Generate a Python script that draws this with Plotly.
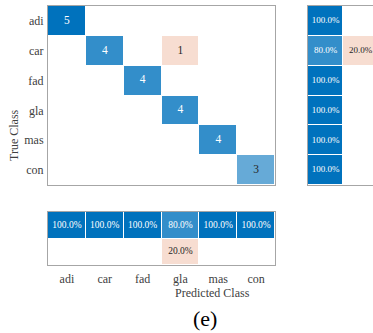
import plotly.graph_objects as go
import numpy as np

classes = ["adi", "car", "fad", "gla", "mas", "con"]
# rows = true class, columns = predicted class
counts = [
    [5, 0, 0, 0, 0, 0],
    [0, 4, 0, 1, 0, 0],
    [0, 0, 4, 0, 0, 0],
    [0, 0, 0, 4, 0, 0],
    [0, 0, 0, 0, 4, 0],
    [0, 0, 0, 0, 0, 3],
]

cm = np.array(counts, dtype=float)
n = len(classes)
diag = np.diag(cm)
row_correct = diag / cm.sum(axis=1) * 100
row_wrong = 100 - row_correct
col_correct = diag / cm.sum(axis=0) * 100
col_wrong = 100 - col_correct

BLUE = "rgb(0,114,189)"
ORANGE = "rgb(217,83,25)"
FRAME = "#a6a6a6"
FONT = "Liberation Serif, Times New Roman, serif"
scale = [[0, ORANGE], [0.5, "white"], [1, BLUE]]

def txtcol(frac, good):
    return "white" if (good and frac >= 0.75) else "#262626"

fig = go.Figure()

# ---- main matrix
mx = cm.max()
zmain = [[None if cm[i, j] == 0 else (cm[i, j] / mx if i == j else -cm[i, j] / mx)
          for j in range(n)] for i in range(n)]
fig.add_trace(go.Heatmap(z=zmain, x=list(range(n)), y=list(range(n)), colorscale=scale,
                         zmin=-1, zmax=1, showscale=False, xgap=1, ygap=1,
                         hoverinfo="skip", xaxis="x", yaxis="y"))
tx, ty, tt, tc = [], [], [], []
for i in range(n):
    for j in range(n):
        if cm[i, j] > 0:
            tx.append(j); ty.append(i); tt.append(str(int(cm[i, j])))
            tc.append(txtcol(cm[i, j] / mx, i == j))
fig.add_trace(go.Scatter(x=tx, y=ty, text=tt, mode="text",
                         textfont=dict(family=FONT, size=11.5, color=tc),
                         hoverinfo="skip", xaxis="x", yaxis="y"))

# ---- right summary (row-normalized)
zr = [[row_correct[i] / 100, (-row_wrong[i] / 100) if row_wrong[i] > 0 else None] for i in range(n)]
fig.add_trace(go.Heatmap(z=zr, x=[0, 1], y=list(range(n)), colorscale=scale,
                         zmin=-1, zmax=1, showscale=False, xgap=1, ygap=1,
                         hoverinfo="skip", xaxis="x2", yaxis="y2"))
tx, ty, tt, tc = [], [], [], []
for i in range(n):
    tx.append(0); ty.append(i); tt.append(f"{row_correct[i]:.1f}%")
    tc.append(txtcol(row_correct[i] / 100, True))
    if row_wrong[i] > 0:
        tx.append(1); ty.append(i); tt.append(f"{row_wrong[i]:.1f}%")
        tc.append("#262626")
fig.add_trace(go.Scatter(x=tx, y=ty, text=tt, mode="text",
                         textfont=dict(family=FONT, size=9, color=tc),
                         hoverinfo="skip", xaxis="x2", yaxis="y2"))

# ---- bottom summary (column-normalized)
zb = [[col_correct[j] / 100 for j in range(n)],
      [(-col_wrong[j] / 100) if col_wrong[j] > 0 else None for j in range(n)]]
fig.add_trace(go.Heatmap(z=zb, x=list(range(n)), y=[0, 1], colorscale=scale,
                         zmin=-1, zmax=1, showscale=False, xgap=1, ygap=1,
                         hoverinfo="skip", xaxis="x3", yaxis="y3"))
tx, ty, tt, tc = [], [], [], []
for j in range(n):
    tx.append(j); ty.append(0); tt.append(f"{col_correct[j]:.1f}%")
    tc.append(txtcol(col_correct[j] / 100, True))
    if col_wrong[j] > 0:
        tx.append(j); ty.append(1); tt.append(f"{col_wrong[j]:.1f}%")
        tc.append("#262626")
fig.add_trace(go.Scatter(x=tx, y=ty, text=tt, mode="text",
                         textfont=dict(family=FONT, size=9.5, color=tc),
                         hoverinfo="skip", xaxis="x3", yaxis="y3"))

W, H = 373, 333
def px(a, b):
    return [a / W, b / W]
def py(top, bot):
    return [(H - bot) / H, (H - top) / H]

ax_common = dict(showgrid=False, zeroline=False, showline=True, linecolor=FRAME,
                 linewidth=1, ticks="", fixedrange=True)
tickfont = dict(family=FONT, size=12, color="#404040")

fig.update_layout(
    width=W, height=H, margin=dict(l=0, r=0, t=0, b=0),
    paper_bgcolor="white", plot_bgcolor="white", showlegend=False,
    xaxis=dict(domain=px(48, 275), range=[-0.5, n - 0.5], showticklabels=False,
               mirror=True, anchor="y", **ax_common),
    yaxis=dict(domain=py(6, 185), range=[n - 0.5, -0.5], tickvals=list(range(n)),
               ticktext=classes, tickfont=tickfont, mirror=True, anchor="x",
               ticklabelstandoff=1, **ax_common),
    xaxis2=dict(domain=px(308, 373), range=[-0.5, -0.5 + 65 / 35], showticklabels=False,
                mirror=True, anchor="y2", **ax_common),
    yaxis2=dict(domain=py(6, 185), range=[n - 0.5, -0.5], showticklabels=False,
                mirror=False, anchor="x2", **ax_common),
    xaxis3=dict(domain=px(48, 275), range=[-0.5, n - 0.5], tickvals=list(range(n)),
                ticktext=classes, tickfont=tickfont, mirror=True, anchor="y3",
                ticklabelstandoff=3, **ax_common),
    yaxis3=dict(domain=py(212, 265), range=[1.5, -0.5], showticklabels=False,
                mirror=True, anchor="x3", **ax_common),
    annotations=[
        dict(text="True Class", x=14 / W, y=(H - 135) / H, xref="paper", yref="paper",
             xanchor="center", yanchor="middle",
             textangle=-90, showarrow=False, font=dict(family=FONT, size=12, color="#404040")),
        dict(text="Predicted Class", x=212 / W, y=(H - 293) / H, xref="paper", yref="paper",
             xanchor="center", yanchor="middle",
             showarrow=False, font=dict(family=FONT, size=12, color="#404040")),
        dict(text="(e)", x=205 / W, y=(H - 318) / H, xref="paper", yref="paper",
             xanchor="center", yanchor="middle",
             showarrow=False, font=dict(family=FONT, size=22, color="black")),
    ],
)

fig.write_html("out.html", config={"displayModeBar": False},
               post_script="document.body.style.margin='0';document.body.style.overflow='hidden';")
